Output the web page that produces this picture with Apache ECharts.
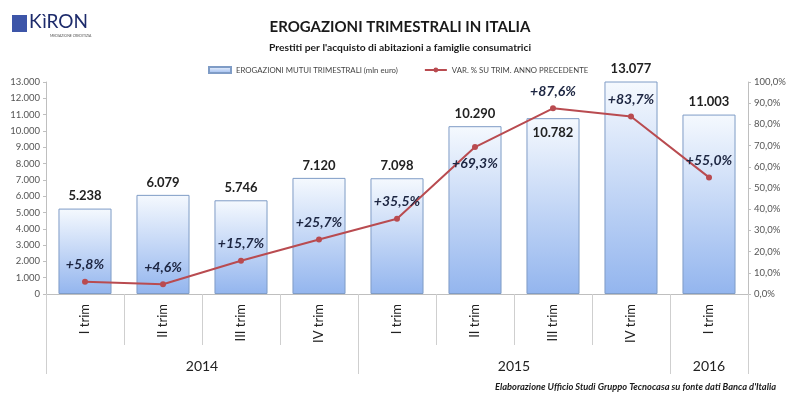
<!DOCTYPE html>
<html>
<head>
<meta charset="utf-8">
<script src="https://cdn.jsdelivr.net/npm/echarts@6/dist/echarts.min.js"></script>
<style>html,body{margin:0;padding:0;background:#fff}#c{width:800px;height:393px}</style>
</head>
<body>
<div id="c"></div>
<script>
const categories = ['I trim','II trim','III trim','IV trim','I trim','II trim','III trim','IV trim','I trim'];
const years = ['2014','2015','2016'];
const yearCounts = [4,4,1];
const erogazioni = [5238,6079,5746,7120,7098,10290,10782,13077,11003];
const variazione = [5.8,4.6,15.7,25.7,35.5,69.3,87.6,83.7,55.0];
const leftTicks = [0,1000,2000,3000,4000,5000,6000,7000,8000,9000,10000,11000,12000,13000];
const rightTicks = [0,10,20,30,40,50,60,70,80,90,100];

const FONT = 'Lato, "Open Sans", sans-serif';
function fmtThousands(v){ return String(Math.round(v)).replace(/\B(?=(\d{3})+(?!\d))/g,'.'); }
function fmtPct(v){ return v.toFixed(1).replace('.',',') + '%'; }

// year boundary/center positions from counts
const yearBounds = [0]; const yearCenters = [];
yearCounts.forEach(function(c){ const s = yearBounds[yearBounds.length-1]; yearCenters.push(s + c/2); yearBounds.push(s + c); });

const insideLabelIdx = [6];
const belowLineLabelIdx = [5];

const chart = echarts.init(document.getElementById('c'));
chart.setOption({
  animation:false,
  textStyle:{fontFamily:FONT},
  title:[
    {text:'EROGAZIONI TRIMESTRALI IN ITALIA', left:'center', top:15, textStyle:{fontSize:15, fontWeight:'bold', color:'#1a1a1a', fontFamily:FONT}},
    {text:"Prestiti per l'acquisto di abitazioni a famiglie consumatrici", left:'center', top:38, textStyle:{fontSize:10.3, fontWeight:'bold', color:'#1a1a1a', fontFamily:FONT}},
    {text:"Elaborazione Ufficio Studi Gruppo Tecnocasa su fonte dati Banca d'Italia", right:19, top:377, textStyle:{fontSize:9.3, fontWeight:'bold', fontStyle:'italic', color:'#1a1a1a', fontFamily:FONT}}
  ],
  legend:{
    top:61, left:203, itemGap:26, itemWidth:22, itemHeight:6,
    textStyle:{fontSize:7.8, color:'#444', fontFamily:FONT},
    data:[
      {name:'EROGAZIONI MUTUI TRIMESTRALI (mln euro)', icon:'rect'},
      {name:'VAR. % SU TRIM. ANNO PRECEDENTE'}
    ]
  },
  graphic:[
    {type:'rect', left:12, top:15, shape:{width:15, height:17}, style:{fill:'#3d55a8'}},
    {type:'text', left:29, top:12, style:{text:'KìRON', fontSize:19, fill:'#1d2b6b', fontFamily:FONT}},
    {type:'text', left:50, top:34, style:{text:'MEDIAZIONE CREDITIZIA', fontSize:3.5, fill:'#555', fontFamily:FONT}}
  ],
  grid:{left:46, right:52, top:82, bottom:99},
  xAxis:[
    {type:'category', data:categories, boundaryGap:true,
     axisLine:{lineStyle:{color:'#bfbfbf'}},
     axisTick:{show:true, length:51, lineStyle:{color:'#cfcfcf'}},
     axisLabel:{rotate:90, fontSize:13, color:'#222', margin:10, fontFamily:FONT}},
    {type:'value', min:0, max:yearBounds[yearBounds.length-1], position:'bottom',
     axisLine:{show:false}, splitLine:{show:false},
     axisTick:{show:true, length:80, customValues:yearBounds, lineStyle:{color:'#cfcfcf'}},
     axisLabel:{customValues:yearCenters, margin:65, fontSize:14, color:'#222', fontFamily:FONT,
       formatter:function(v){ const i = yearCenters.indexOf(v); return i>=0 ? years[i] : ''; }}}
  ],
  yAxis:[
    {type:'value', min:0, max:leftTicks[leftTicks.length-1], interval:1000, position:'left',
     axisLine:{show:true, lineStyle:{color:'#bfbfbf'}}, axisTick:{show:true, length:3, lineStyle:{color:'#bfbfbf'}},
     splitLine:{show:false},
     axisLabel:{fontSize:9.5, color:'#555', margin:6, fontFamily:FONT, formatter:function(v){return fmtThousands(v);}}},
    {type:'value', min:0, max:rightTicks[rightTicks.length-1], interval:10, position:'right',
     axisLine:{show:true, lineStyle:{color:'#bfbfbf'}}, axisTick:{show:true, length:3, lineStyle:{color:'#bfbfbf'}},
     splitLine:{show:false},
     axisLabel:{fontSize:9.5, color:'#555', margin:6, fontFamily:FONT, formatter:function(v){return fmtPct(v);}}}
  ],
  series:[
    {name:'EROGAZIONI MUTUI TRIMESTRALI (mln euro)', type:'bar', xAxisIndex:0, yAxisIndex:0, barWidth:'68%',
     itemStyle:{color:new echarts.graphic.LinearGradient(0,0,0,1,[{offset:0,color:'#f5f9fe'},{offset:1,color:'#93b5ee'}]),
       borderColor:'#7f9cc6', borderWidth:1},
     label:{show:true, position:'top', distance:6, fontSize:13, fontWeight:'bold', color:'#222', fontFamily:FONT,
       formatter:function(p){return fmtThousands(p.value);}},
     data:erogazioni.map(function(v,i){
       return insideLabelIdx.indexOf(i)>=0 ? {value:v, label:{position:'insideTop', distance:8}} : v;
     })},
    {name:'VAR. % SU TRIM. ANNO PRECEDENTE', type:'line', xAxisIndex:0, yAxisIndex:1,
     symbol:'circle', symbolSize:6, lineStyle:{color:'#b94b50', width:2}, itemStyle:{color:'#b94b50'},
     label:{show:true, position:'top', distance:7, fontSize:14, fontWeight:'bold', fontStyle:'italic', color:'#1c2541', fontFamily:FONT,
       formatter:function(p){return '+' + fmtPct(p.value);}},
     data:variazione.map(function(v,i){
       return belowLineLabelIdx.indexOf(i)>=0 ? {value:v, label:{position:'bottom', distance:6}} : v;
     })}
  ]
});
</script>
</body>
</html>
